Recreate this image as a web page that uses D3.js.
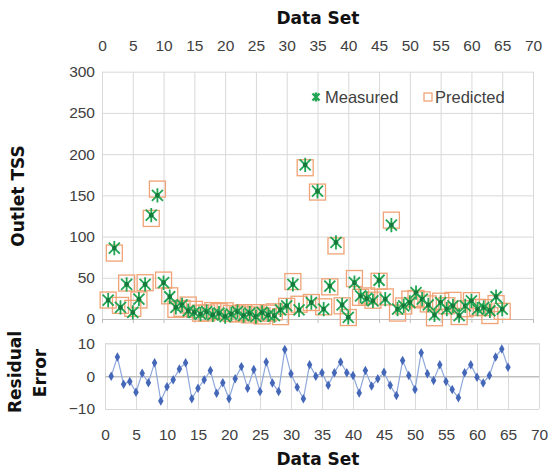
<!DOCTYPE html>
<html>
<head>
<meta charset="utf-8">
<script src="https://cdn.jsdelivr.net/npm/d3@7"></script>
<style>
  body { margin: 0; background: #fff; }
  text { font-family: "Liberation Sans", Arial, sans-serif; }
  .tick text { fill: #404040; font-size: 15.5px; }
  .title { font-family: "DejaVu Sans", sans-serif; font-weight: bold; fill: #111; font-size: 17px; }
</style>
</head>
<body>
<div id="chart"></div>
<script>
/* DATA ############################################ */
const dataSet = d3.range(1, 66);

const measured = [23, 86, 14, 42, 8, 24, 42, 126, 150, 44,
  27, 14, 17, 10, 8, 6, 9, 5, 7, 3,
  6, 9, 4, 7, 3, 8, 5, 4, 11, 16,
  42, 11, 187, 20, 155, 12, 40, 93, 17, 2,
  44, 28, 25, 22, 47, 24, 114, 12, 16, 20,
  32, 24, 17, 5, 20, 12, 16, 4, 16, 22,
  12, 14, 10, 27, 12];

const predicted = [23, 80, 16.5, 43.6, 12.9, 23.1, 44, 122, 157.6, 47.2,
  28.1, 11.8, 12.9, 16.9, 11.7, 7.1, 7.3, 10.2, 9, 9.9,
  6.8, 6.1, 7.7, 5, 7.7, 3.7, 7.1, 8.7, 2.9, 15.3,
  45.4, 17.9, 183.5, 20, 154, 14.8, 39, 88.7, 16, 1.8,
  49.1, 26.3, 28, 22.8, 45.8, 26.8, 119.9, 7.2, 15.8, 24.1,
  24.9, 23.3, 18.3, 1.5, 21.6, 16.1, 22.6, 3, 12.5, 22.3,
  14.1, 13.8, 4.2, 18.7, 9.3];

const residual = [0, 5.8, -2.5, -1.6, -4.9, 0.9, -2, 4.1, -7.6, -3.2,
  -1.1, 2.2, 4.1, -6.9, -3.7, -1.1, 1.7, -5.2, -2, -6.9,
  -0.8, 2.9, -3.7, 2, -4.7, 4.3, -2.1, -4.7, 8.1, 0.7,
  -3.4, -6.9, 3.5, 0, 1, -2.8, 1, 4.3, 1, 0.2,
  -5.1, 1.7, -3, -0.8, 1.2, -2.8, -5.9, 4.8, 0.2, -4.1,
  7.1, 0.7, -1.3, 3.5, -1.6, -4.1, -6.6, 1, 3.5, -0.3,
  -2.1, 0.2, 5.8, 8.3, 2.7];

const xTicks = d3.range(0, 71, 5);
const yTicksTop = [0, 50, 100, 150, 200, 250, 300];
const yTicksRes = [-10, 0, 10];

/* CONSTANTS ####################################### */
const width = 552;
const height = 473;
const gridColor = "#d9d9d9";
const green = "#22a552";
const orange = "#f0a376";
const blueLine = "#8ea8dc";
const blueDot = "#4467b8";

const svg = d3.select("#chart")
  .append("svg")
  .attr("width", width)
  .attr("height", height);

/* SCALES ########################################## */
const xTop = d3.scaleLinear().domain([0, 70]).range([102, 533]);
const yTop = d3.scaleLinear().domain([0, 300]).range([319, 71.7]);
const xRes = d3.scaleLinear().domain([0, 70]).range([105, 539]);
const yRes = d3.scaleLinear().domain([-10, 10]).range([409, 343.3]);

/* TOP CHART ####################################### */
// grid
svg.append("g")
  .attr("transform", `translate(0, ${yTop(0)})`)
  .call(d3.axisBottom(xTop).tickValues(xTicks).tickSize(-(yTop(0) - yTop(300))).tickFormat(""))
  .call(g => g.select(".domain").remove())
  .call(g => g.selectAll("line").attr("stroke", gridColor));

svg.append("g")
  .attr("transform", `translate(${xTop(0)}, 0)`)
  .call(d3.axisLeft(yTop).tickValues(yTicksTop).tickSize(-(xTop(70) - xTop(0))).tickPadding(7))
  .call(g => g.select(".domain").remove())
  .call(g => g.selectAll("line").attr("stroke", d => d === 0 ? "#bfbfbf" : gridColor));

// small tick marks below zero line
svg.append("g")
  .attr("transform", `translate(0, ${yTop(0)})`)
  .call(d3.axisBottom(xTop).tickValues(xTicks).tickSize(4).tickFormat(""))
  .call(g => g.select(".domain").attr("stroke", "#bfbfbf"))
  .call(g => g.selectAll("line").attr("stroke", "#bfbfbf"));

// top axis labels
svg.append("g")
  .attr("transform", `translate(0, ${yTop(300)})`)
  .call(d3.axisTop(xTop).tickValues(xTicks).tickSize(0).tickPadding(21))
  .call(g => g.select(".domain").remove());

svg.append("text")
  .attr("class", "title")
  .attr("x", 318)
  .attr("y", 24)
  .attr("text-anchor", "middle")
  .text("Data Set");

svg.append("text")
  .attr("class", "title")
  .attr("transform", `translate(24, 196) rotate(-90)`)
  .attr("text-anchor", "middle")
  .text("Outlet TSS");

// markers
const starPath = r => `M${-r},${-r}L${r},${r}M${-r},${r}L${r},${-r}M0,${-r * 1.3}L0,${r * 1.3}`;

svg.append("g")
  .selectAll("rect")
  .data(dataSet)
  .join("rect")
  .attr("x", (d, i) => xTop(d) - 8)
  .attr("y", (d, i) => yTop(predicted[i]) - 8)
  .attr("width", 16)
  .attr("height", 16)
  .attr("fill", "none")
  .attr("stroke", orange)
  .attr("stroke-width", 1.3);

const stars = svg.append("g")
  .selectAll("g")
  .data(dataSet)
  .join("g")
  .attr("transform", (d, i) => `translate(${xTop(d)}, ${yTop(measured[i])})`);

stars.append("path")
  .attr("d", starPath(5.5))
  .attr("stroke", green)
  .attr("stroke-width", 1.8)
  .attr("fill", "none");

stars.append("circle")
  .attr("r", 2.4)
  .attr("fill", "#167a3c");

// legend
const legend = svg.append("g").attr("transform", "translate(316, 97)");
legend.append("path")
  .attr("d", starPath(3.5))
  .attr("stroke", green)
  .attr("stroke-width", 2.4);
legend.append("text")
  .attr("x", 9).attr("y", 6)
  .style("font-size", "16.5px").style("fill", "#404040")
  .text("Measured");
legend.append("rect")
  .attr("x", 108).attr("y", -4)
  .attr("width", 8).attr("height", 8)
  .attr("fill", "none").attr("stroke", orange).attr("stroke-width", 1.3);
legend.append("text")
  .attr("x", 119).attr("y", 6)
  .style("font-size", "16.5px").style("fill", "#404040")
  .text("Predicted");

/* RESIDUAL CHART ################################## */
svg.append("g")
  .attr("transform", `translate(0, ${yRes(-10)})`)
  .call(d3.axisBottom(xRes).tickValues(xTicks).tickSize(-(yRes(-10) - yRes(10))).tickPadding(20))
  .call(g => g.select(".domain").remove())
  .call(g => g.selectAll("line").attr("stroke", gridColor));

svg.append("g")
  .attr("transform", `translate(${xRes(0)}, 0)`)
  .call(d3.axisLeft(yRes).tickValues(yTicksRes).tickSize(-(xRes(70) - xRes(0))).tickPadding(10))
  .call(g => g.select(".domain").attr("stroke", gridColor))
  .call(g => g.selectAll("line").attr("stroke", d => d === 0 ? "#bfbfbf" : gridColor))
  .call(g => g.selectAll("line").filter(d => d === 0).attr("stroke-width", 1.5));

svg.append("text")
  .attr("class", "title")
  .attr("x", 318)
  .attr("y", 465)
  .attr("text-anchor", "middle")
  .text("Data Set");

svg.append("text")
  .attr("class", "title")
  .attr("transform", `translate(21, 372) rotate(-90)`)
  .attr("text-anchor", "middle")
  .text("Residual");

svg.append("text")
  .attr("class", "title")
  .attr("transform", `translate(46, 373) rotate(-90)`)
  .attr("text-anchor", "middle")
  .text("Error");

const line = d3.line()
  .x((d, i) => xRes(d))
  .y((d, i) => yRes(residual[i]));

svg.append("path")
  .datum(dataSet)
  .attr("d", line)
  .attr("fill", "none")
  .attr("stroke", blueLine)
  .attr("stroke-width", 1.2);

svg.append("g")
  .selectAll("path")
  .data(dataSet)
  .join("path")
  .attr("d", d3.symbol(d3.symbolDiamond, 26))
  .attr("transform", (d, i) => `translate(${xRes(d)}, ${yRes(residual[i])})`)
  .attr("fill", blueDot);
</script>
</body>
</html>
